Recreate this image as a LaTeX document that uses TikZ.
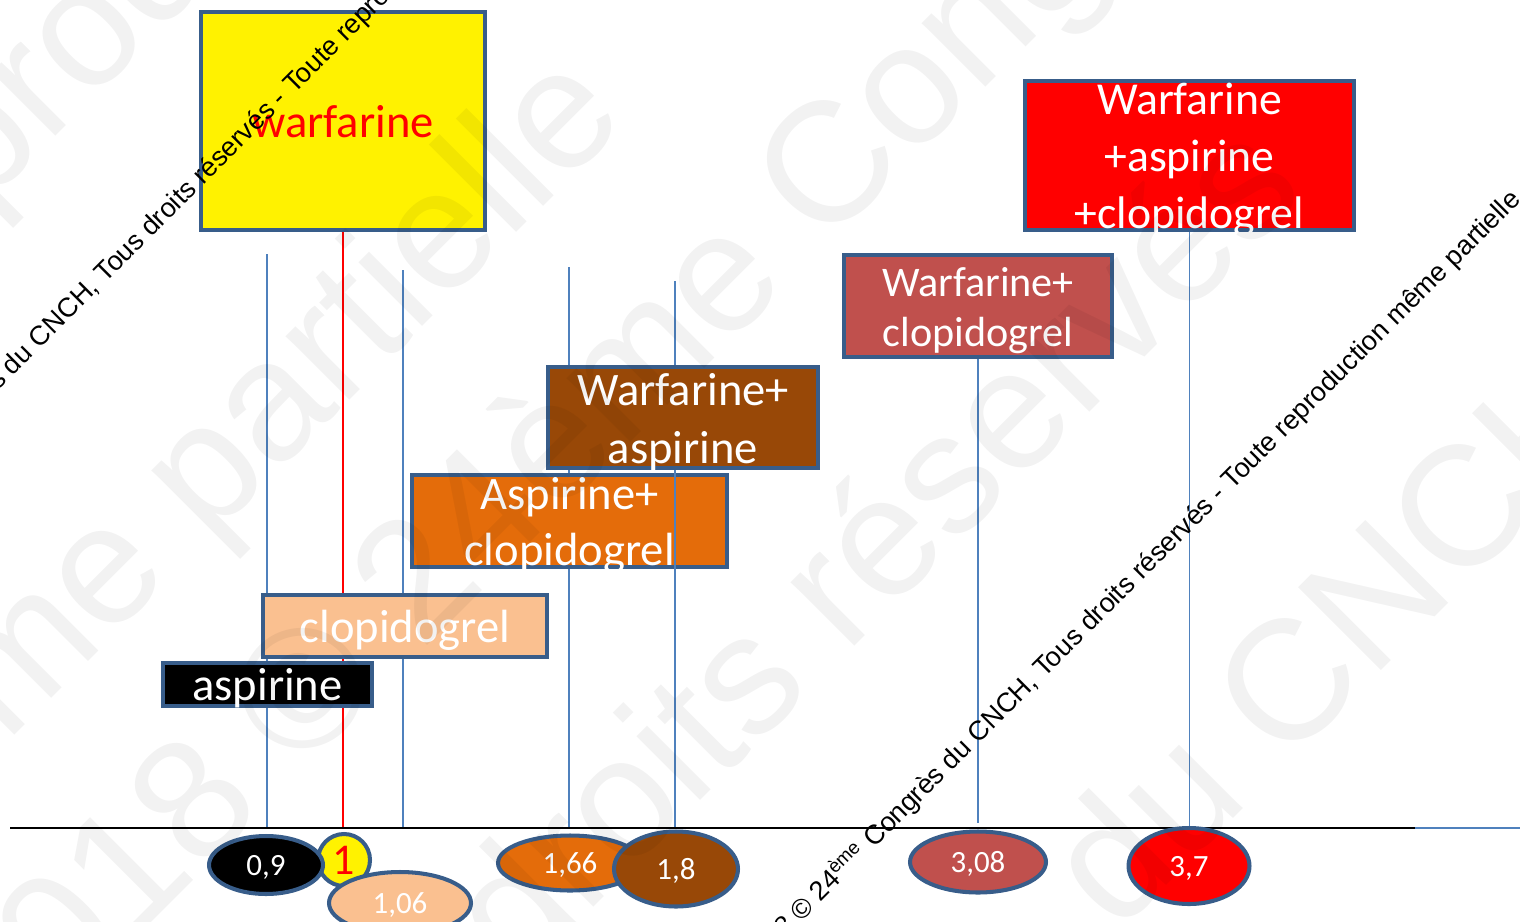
\documentclass[tikz,border=0pt]{standalone}
\usepackage{fontspec}
\setmainfont{Carlito}
\newfontfamily\wmfont{Liberation Sans}
\usepackage{tikz}
\usetikzlibrary{shapes.geometric}
\definecolor{boxedge}{HTML}{385D8A}
\definecolor{lineblue}{HTML}{4F81BD}
\definecolor{peach}{HTML}{FAC090}
\definecolor{orangebox}{HTML}{E46C0A}
\definecolor{brownbox}{HTML}{984807}
\definecolor{rosebox}{HTML}{C0504D}
\tikzset{
    drugbox/.style={draw=boxedge, line width=2.3pt, inner sep=0pt, text depth=0pt},
    drugtext/.style={text=white, align=center, inner sep=0pt, yshift=-0.09cm},
    dose/.style={ellipse, draw=boxedge, line width=2.3pt, inner sep=0pt, text depth=0pt, text=white, font=\fontsize{17.6}{20}\selectfont},
    level/.style={draw=lineblue, line width=0.75pt},
    notice/.style={font=\wmfont\fontsize{15.4}{18}\selectfont, inner sep=0pt, rotate=45},
    ghost/.style={font=\wmfont\fontsize{97}{110}\selectfont, text=black, text opacity=0.05, inner sep=0pt, rotate=45}
}

\begin{document}
\begin{tikzpicture}[x=0.02cm, y=-0.02cm]
                        \useasboundingbox (0,0) rectangle (1520,922);
                        \clip (0,0) rectangle (1520,922);

                        \coordinate (axL) at (10,828);
                        \coordinate (axM) at (1415,828);
                        \coordinate (axR) at (1520,828);

                        \coordinate (t09) at (267,254);
                        \coordinate (t106) at (403,270);
                        \coordinate (t166) at (569,267);
                        \coordinate (t18) at (675,281);

                        \node[drugbox, fill=yellow, text=red, font=\fontsize{26.5}{32}\selectfont, minimum width=5.68cm, minimum height=4.36cm] (warf) at (343,121) {warfarine};
                        \node[drugbox, fill=red, minimum width=6.58cm, minimum height=2.98cm] (wac) at (1189.5,155.5) {};
                        \node[drugtext, font=\fontsize{26}{32.4}\selectfont] (wacT) at (wac.center) {Warfarine\\+aspirine\\+clopidogrel};
                        \node[drugbox, fill=rosebox, minimum width=5.36cm, minimum height=2.04cm] (wc) at (978,306) {};
                        \node[drugtext, font=\fontsize{24}{28.5}\selectfont] (wcT) at (wc.center) {Warfarine+\\clopidogrel};

                        \draw[red, line width=1.1pt] (warf.south) -- (warf.south |- axL);
                        \draw[level] (t09) -- (t09 |- axL);
                        \draw[level] (t106) -- (t106 |- axL);
                        \draw[level] (t166) -- (t166 |- axL);
                        \draw[level] (wc.south) -- ([yshift=0.1cm]wc.south |- axL);
                        \draw[level] (wac.south) -- (wac.south |- axL);

                        \node[drugbox, fill=peach, text=white, font=\fontsize{26.5}{32}\selectfont, minimum width=5.68cm, minimum height=1.24cm] (clop) at (405,626) {clopidogrel};
                        \node[drugbox, fill=black, text=white, font=\fontsize{26.5}{32}\selectfont, minimum width=4.18cm, minimum height=0.86cm] (asp) at (267.5,684.5) {aspirine};
                        \node[drugbox, fill=orangebox, minimum width=6.30cm, minimum height=1.84cm] (ac) at (569.5,521) {};
                        \node[drugtext, font=\fontsize{26.5}{32}\selectfont] (acT) at (ac.center) {Aspirine+\\clopidogrel};

                        \draw[level] (t18) -- (t18 |- axL);

                        \node[drugbox, fill=brownbox, minimum width=5.40cm, minimum height=2.02cm] (wa) at (683,417.5) {};
                        \node[drugtext, font=\fontsize{26.5}{33}\selectfont] (waT) at (wa.center) {Warfarine+\\aspirine};

                        \draw[line width=1.1pt] (axL) -- (axM);
                        \draw[lineblue, line width=1.1pt] (axM) -- (axR);

                        \node[dose, circle, fill=yellow, text=red, font=\fontsize{25}{28}\selectfont, minimum size=1.04cm] (eone) at (344,860) {1};
                        \node[dose, fill=black, minimum width=2.28cm, minimum height=1.16cm] (e09) at (266,865) {0,9};
                        \node[dose, fill=peach, minimum width=2.84cm, minimum height=1.24cm] (e106) at (400,903) {1,06};
                        \node[dose, fill=orangebox, minimum width=2.88cm, minimum height=1.10cm] (e166) at (570,863) {1,66};
                        \node[dose, fill=brownbox, minimum width=2.48cm, minimum height=1.50cm] (e18) at (676,869) {1,8};
                        \node[dose, fill=rosebox, minimum width=2.72cm, minimum height=1.22cm] (e308) at (978,862) {3,08};
                        \node[dose, fill=red, minimum width=2.42cm, minimum height=1.52cm] (e37) at (1189,866) {3,7};

                        \coordinate (nq) at (294,95);
                        \coordinate (np) at (874,849);
                        \node[notice, anchor=base east] (noteA1) at (nq) {2018 © 24\textsuperscript{ème} Congrès du CNCH, Tous droits réservés -\kern0.28em};
                        \node[notice, anchor=base west] (noteA2) at (nq) {Toute reproduction même partielle};
                        \node[notice, anchor=base east] (noteB1) at (np) {2018 © 24\textsuperscript{ème}\kern0.28em};
                        \node[notice, anchor=base west] (noteB2) at (np) {Congrès du CNCH, Tous droits réservés - Toute reproduction même partielle};

                        \node[ghost] (ghostA) at (177,-47) {reproduction};
                        \node[ghost] (ghostB) at (203,484) {même partielle};
                        \node[ghost] (ghostC) at (607,403) {2018 © 24ème Congrès};
                        \node[ghost] (ghostD) at (870,544) {droits réservés};
                        \node[ghost] (ghostE) at (1332,634) {du CNCH};
                        \node[ghost] (ghostF) at (1839,520) {réservés};
\end{tikzpicture}
\end{document}
